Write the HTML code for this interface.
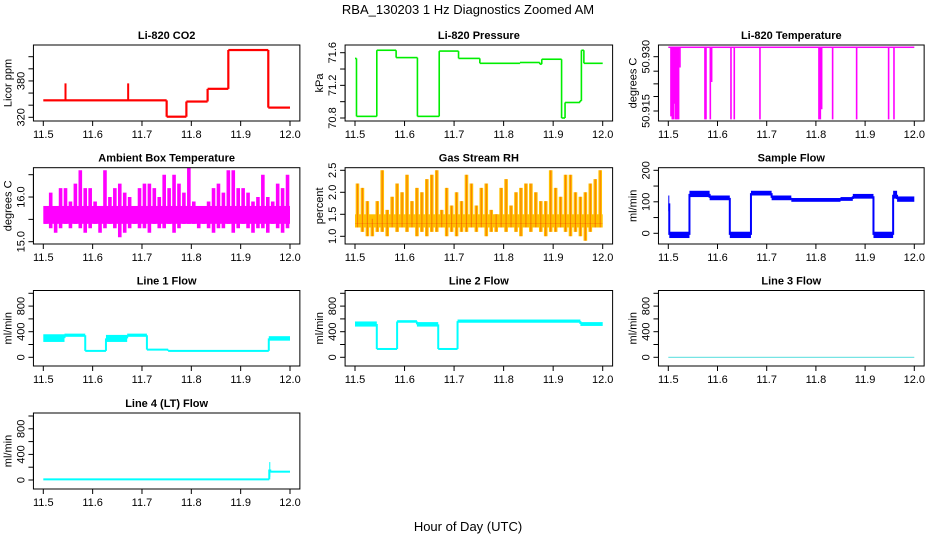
<!DOCTYPE html>
<html><head><meta charset="utf-8"><style>
html,body{margin:0;padding:0;background:#fff;}
svg text{font-family:"Liberation Sans",Arial,sans-serif;fill:#000;}
</style></head><body>
<svg id="chart" width="936" height="540" viewBox="0 0 936 540" xmlns="http://www.w3.org/2000/svg">
<text x="468" y="14" text-anchor="middle" font-size="13">RBA_130203  1 Hz Diagnostics Zoomed AM</text>
<text x="468" y="531" text-anchor="middle" font-size="13">Hour of Day (UTC)</text>
</svg>
<script>
// ---- data ----
const xTicks = [11.5, 11.6, 11.7, 11.8, 11.9, 12.0];
const xTickLabels = ["11.5", "11.6", "11.7", "11.8", "11.9", "12.0"];

const co2X = [11.5, 11.75, 11.79, 11.833, 11.875, 11.956];
const co2Y = [348, 321, 346, 367, 431, 336];
const co2SpikeX = [11.545, 11.672];
const co2SpikeY = [376, 376];
const co2Ticks = [320, 340, 360, 380, 400, 420];
const co2TickLabels = ["320", "", "", "380", "", ""];

const presX = [11.5, 11.503, 11.544, 11.583, 11.626, 11.67, 11.709, 11.752, 11.833, 11.873, 11.877, 11.917, 11.924, 11.954, 11.957, 11.962];
const presY = [71.53, 70.82, 71.63, 71.54, 70.82, 71.62, 71.53, 71.47, 71.48, 71.46, 71.52, 70.80, 70.99, 71.01, 71.63, 71.47];
const presTicks = [70.8, 71.0, 71.2, 71.4, 71.6];
const presTickLabels = ["70.8", "", "71.2", "", "71.6"];

const tempTop = 50.9326;
const tempSpikeX = [11.5054, 11.5081, 11.5102, 11.5122, 11.5142, 11.5163, 11.5183, 11.521, 11.5237, 11.5745, 11.5766, 11.5854, 11.5881, 11.6274, 11.6341, 11.6863, 11.8062, 11.809, 11.8117, 11.834, 11.8828, 11.9478, 11.9587];
const tempSpikeY = [50.9135, 50.9127, 50.9127, 50.917, 50.9127, 50.9127, 50.9127, 50.9127, 50.927, 50.9127, 50.9127, 50.9127, 50.923, 50.9127, 50.9127, 50.9127, 50.9127, 50.9127, 50.9155, 50.9127, 50.9127, 50.9127, 50.9127];
const tempTicks = [50.915, 50.919, 50.9225, 50.926, 50.930];
const tempTickLabels = ["50.915", "", "", "", "50.930"];

const ambHi = [15.8,16.1,15.8,16.2,16.2,15.9,16.3,16.6,16.2,16.2, 15.9,15.8,16.6,16.0,16.2,16.3,16.1,16.0,15.8,16.2, 16.3,16.3,16.2,16.0,16.5,16.2,16.5,16.3,16.1,16.7, 15.9,15.8,15.8,15.9,16.2,16.3,16.1,16.6,16.6,16.2, 16.2,16.1,15.9,16.0,16.5,16.0,15.9,16.3,16.2,16.5];
const ambLo = [15.4,15.3,15.2,15.3,15.4,15.3,15.4,15.3,15.2,15.3, 15.4,15.2,15.3,15.4,15.3,15.1,15.2,15.3,15.4,15.3, 15.3,15.2,15.4,15.3,15.3,15.4,15.2,15.3,15.4,15.4, 15.4,15.3,15.4,15.3,15.2,15.3,15.3,15.4,15.2,15.3, 15.4,15.3,15.2,15.3,15.3,15.2,15.4,15.3,15.2,15.3];
const ambTicks = [15.0, 15.5, 16.0, 16.5];
const ambTickLabels = ["15.0", "", "16.0", ""];

const rhHi = [2.2,2.1,1.8,1.4,1.8,2.5,1.6,1.9,2.2,2.0, 2.4,1.8,2.1,2.0,2.3,2.4,2.5,1.6,2.1,1.7, 2.0,1.8,2.4,2.2,1.7,2.1,2.2,1.6,1.5,2.1, 2.3,1.7,2.0,2.1,2.2,2.2,2.0,1.8,1.8,2.5, 2.1,1.9,2.4,2.4,2.0,1.9,2.0,2.2,2.3,2.5];
const rhLo = [1.2,1.1,1.0,1.0,1.1,1.1,1.0,1.2,1.1,1.2, 1.1,1.2,1.0,1.1,1.0,1.1,1.1,1.2,1.0,1.1, 1.0,1.1,1.1,1.2,1.1,1.2,1.0,1.1,1.1,1.2, 1.1,1.2,1.1,1.0,1.2,1.1,1.2,1.1,1.0,1.1, 1.1,1.2,1.1,1.0,1.1,1.0,0.9,1.1,1.2,1.2];
const rhTicks = [1.0, 1.5, 2.0, 2.5];
const rhTickLabels = ["1.0", "1.5", "2.0", "2.5"];

const sfX = [11.5, 11.502, 11.543, 11.584, 11.625, 11.668, 11.71, 11.75, 11.85, 11.875, 11.917, 11.957, 11.965];
const sfLo = [70, -15, 115, 105, -15, 120, 105, 100, 103, 110, -15, 110, 100];
const sfHi = [120, 5, 135, 120, 5, 135, 120, 112, 115, 125, 5, 135, 117];
const sfTicks = [0, 50, 100, 150, 200];
const sfTickLabels = ["0", "", "100", "", "200"];

const l1X = [11.5, 11.543, 11.585, 11.627, 11.67, 11.71, 11.753, 11.957];
const l1Lo = [240, 320, 100, 240, 320, 120, 100, 260];
const l1Hi = [360, 370, 100, 350, 370, 120, 100, 330];

const l2X = [11.5, 11.544, 11.585, 11.625, 11.668, 11.707, 11.955];
const l2Lo = [480, 130, 540, 480, 130, 540, 490];
const l2Hi = [560, 130, 580, 550, 130, 590, 550];

const l3X = [11.5];
const l3Lo = [0];
const l3Hi = [0];

const l4X = [11.5, 11.958, 11.96];
const l4Lo = [10, 50, 130];
const l4Hi = [10, 280, 130];

const flowTicks = [0, 200, 400, 600, 800, 1000];
const flowTickLabels = ["0", "", "400", "", "800", ""];

// ---- layout ----
const NS = "http://www.w3.org/2000/svg";
const svg = document.getElementById("chart");
const cols = [{a:43.3,b:290},{a:355,b:602.7},{a:668.3,b:914.3}];
const rows = [{t:45,b:121},{t:167.7,b:244},{t:290.5,b:366},{t:413,b:489}];
function mk(tag, attrs, parent){
  const e = document.createElementNS(NS, tag);
  for (const k in attrs) e.setAttribute(k, attrs[k]);
  (parent||svg).appendChild(e); return e;
}
function panel(name, title, ylab, col, row, va, ya, vb, yb, ticks, labels){
  const c = cols[col], r = rows[row];
  const pad = 0.04*(c.b-c.a);
  const L = c.a - pad, R = c.b + pad;
  const g = mk("g", {});
  
  
  const sx = v => c.a + (v-11.5)/0.5*(c.b-c.a);
  const sy = v => ya + (v-va)/(vb-va)*(yb-ya);
  const clip = mk("clipPath", {id: name+"-clip"}, g);
  mk("rect", {x:L, y:r.t, width:R-L, height:r.b-r.t}, clip);
  const plot = mk("g", {"clip-path":"url(#"+name+"-clip)"}, g);
  
  
  const t = mk("text", {x:(L+R)/2, y:r.t-6, "text-anchor":"middle", "font-size":"11", "font-weight":"bold"}, g);
  t.textContent = title;
  
  
  const bx = mk("rect", {x:L, y:r.t, width:R-L, height:r.b-r.t, fill:"none", stroke:"#000", "stroke-width":"1"}, g);
  
  
  const xa = mk("g", {}, g);
  
  
  mk("line", {x1:sx(xTicks[0]), x2:sx(xTicks[xTicks.length-1]), y1:r.b, y2:r.b, stroke:"#000"}, xa);
  xTicks.forEach((v,i)=>{
    mk("line", {x1:sx(v), x2:sx(v), y1:r.b, y2:r.b+5, stroke:"#000"}, xa);
    const tl = mk("text", {x:sx(v), y:r.b+17, "text-anchor":"middle", "font-size":"11"}, xa);
    tl.textContent = xTickLabels[i];
    
    
  });
  const yaG = mk("g", {}, g);
  
  
  mk("line", {x1:L, x2:L, y1:sy(ticks[0]), y2:sy(ticks[ticks.length-1]), stroke:"#000"}, yaG);
  ticks.forEach((v,i)=>{
    mk("line", {x1:L-5, x2:L, y1:sy(v), y2:sy(v), stroke:"#000"}, yaG);
    if (labels[i]) {
      const yl = mk("text", {x:0, y:0, "text-anchor":"middle", "font-size":"11", transform:"translate("+(L-9)+","+sy(v)+") rotate(-90)"}, yaG);
      yl.textContent = labels[i];
      
      
    }
  });
  const yt = mk("text", {x:0, y:0, "text-anchor":"middle", "font-size":"11", transform:"translate("+(L-22)+","+((r.t+r.b)/2)+") rotate(-90)"}, g);
  yt.textContent = ylab;
  
  
  return {plot, sx, sy};
}
function steps(p, name, xs, lo, hi, color, w){
  for (let i=0;i<xs.length;i++){
    const x0 = p.sx(xs[i]), x1 = p.sx(i+1<xs.length ? xs[i+1] : 12.0);
    const yh = p.sy(hi[i]), yl = p.sy(lo[i]);
    const h = Math.max(yl-yh, w);
    const rc = mk("rect", {x:x0, y:(yl-yh)<w ? (yh+yl)/2-w/2 : yh, width:Math.max(x1-x0,1), height:h, fill:color}, p.plot);
    
    
    if (i>0){
      const pm = p.sy((lo[i-1]+hi[i-1])/2), cm = p.sy((lo[i]+hi[i])/2);
      const ln = mk("line", {x1:x0, x2:x0, y1:pm, y2:cm, stroke:color, "stroke-width":w}, p.plot);
      
      
    }
  }
}
function spikes(p, name, xs, ys, base, color, w){
  xs.forEach((x,i)=>{
    const ln = mk("line", {x1:p.sx(x), x2:p.sx(x), y1:p.sy(base), y2:p.sy(ys[i]), stroke:color, "stroke-width":w}, p.plot);
    
    
  });
}
function noise(p, name, lo, hi, coreLo, coreHi, color, sw){
  const n = lo.length;
  const core = mk("rect", {x:p.sx(11.5), y:p.sy(coreHi), width:p.sx(12)-p.sx(11.5), height:Math.max(p.sy(coreLo)-p.sy(coreHi),0.5), fill:color}, p.plot);
  
  
  for (let i=0;i<n;i++){
    const x = p.sx(11.5 + (i+0.5)*0.5/n);
    const ln = mk("line", {x1:x, x2:x, y1:p.sy(lo[i]), y2:p.sy(hi[i]), stroke:color, "stroke-width":sw}, p.plot);
    
    
  }
}

const pCo2 = panel("co2", "Li-820 CO2", "Licor ppm", 0, 0, 320, 117.3, 420, 56.7, co2Ticks, co2TickLabels);
steps(pCo2, "co2", co2X, co2Y, co2Y, "#ff0000", 2.2);
spikes(pCo2, "co2", co2SpikeX, co2SpikeY, 348, "#ff0000", 2);
const pPres = panel("pressure", "Li-820 Pressure", "kPa", 1, 0, 70.8, 118, 71.6, 52.7, presTicks, presTickLabels);
steps(pPres, "pressure", presX, presY, presY, "#00ee00", 1.6);
const pTemp = panel("li820-temp", "Li-820 Temperature", "degrees C", 2, 0, 50.915, 111, 50.930, 56.7, tempTicks, tempTickLabels);
steps(pTemp, "li820-temp", [11.5], [tempTop], [tempTop], "#ff00ff", 1.5);
spikes(pTemp, "li820-temp", tempSpikeX, tempSpikeY, tempTop, "#ff00ff", 1.6);
const pAmb = panel("ambient", "Ambient Box Temperature", "degrees C", 0, 1, 15.0, 241.7, 16.5, 174.7, ambTicks, ambTickLabels);
noise(pAmb, "ambient", ambLo, ambHi, 15.4, 15.8, "#ff00ff", 3.6);
const pRh = panel("rh", "Gas Stream RH", "percent", 1, 1, 1.0, 236.3, 2.5, 170.3, rhTicks, rhTickLabels);
noise(pRh, "rh", rhLo, rhHi, 1.2, 1.5, "#ffc000", 3.6);
noise(pRh, "rh-red", rhLo, rhHi, 1.3, 1.3, "rgba(240,40,0,0.4)", 1.2);
const pSf = panel("sample-flow", "Sample Flow", "ml/min", 2, 1, 0, 233.3, 200, 170.3, sfTicks, sfTickLabels);
steps(pSf, "sample-flow", sfX, sfLo, sfHi, "#0000ff", 2);
const pL1 = panel("line1-flow", "Line 1 Flow", "ml/min", 0, 2, 0, 357.3, 1000, 293.3, flowTicks, flowTickLabels);
steps(pL1, "line1-flow", l1X, l1Lo, l1Hi, "#00ffff", 2);
const pL2 = panel("line2-flow", "Line 2 Flow", "ml/min", 1, 2, 0, 357.3, 1000, 293.3, flowTicks, flowTickLabels);
steps(pL2, "line2-flow", l2X, l2Lo, l2Hi, "#00ffff", 2);
const pL3 = panel("line3-flow", "Line 3 Flow", "ml/min", 2, 2, 0, 357.3, 1000, 293.3, flowTicks, flowTickLabels);
steps(pL3, "line3-flow", l3X, l3Lo, l3Hi, "#55dddd", 1);
const pL4 = panel("line4-flow", "Line 4 (LT) Flow", "ml/min", 0, 3, 0, 480, 1000, 416, flowTicks, flowTickLabels);
steps(pL4, "line4-flow", l4X, l4Lo, l4Hi, "#00ffff", 2);
</script>
</body></html>
